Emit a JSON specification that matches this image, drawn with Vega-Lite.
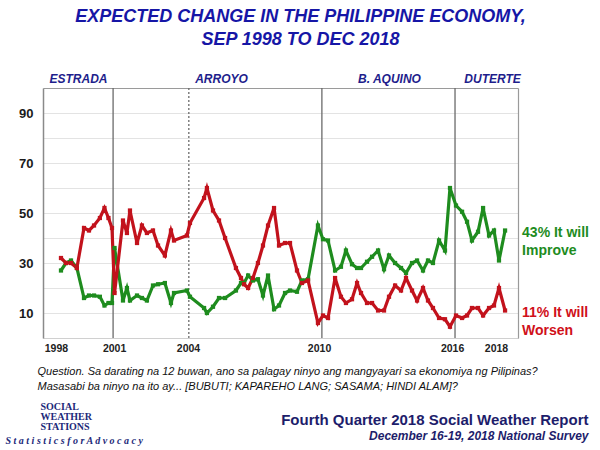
{
  "$schema": "https://vega.github.io/schema/vega-lite/v6.json",
  "width": 475,
  "height": 250,
  "autosize": {"type": "none"},
  "padding": {"left": 43, "top": 88, "right": 82, "bottom": 112},
  "background": "white",
  "config": {"view": {"stroke": null}, "font": "Liberation Sans"},
  "title": {
    "text": ["EXPECTED CHANGE IN THE PHILIPPINE ECONOMY,", "SEP 1998 TO DEC 2018"],
    "anchor": "middle",
    "frame": "group",
    "dx": 20,
    "offset": 23,
    "font": "Liberation Sans",
    "fontSize": 18,
    "fontStyle": "italic",
    "fontWeight": "bold",
    "color": "#1616a6",
    "lineHeight": 23
  },
  "datasets": {
    "survey": [
      {"date": "1998-08-27", "Improve": 27, "Worsen": 32},
      {"date": "1998-11-17", "Improve": 30, "Worsen": 30},
      {"date": "1999-02-08", "Improve": 31, "Worsen": 30},
      {"date": "1999-05-16", "Improve": 28, "Worsen": 28},
      {"date": "1999-09-10", "Improve": 16, "Worsen": 44},
      {"date": "1999-12-01", "Improve": 17, "Worsen": 43},
      {"date": "2000-02-22", "Improve": 17, "Worsen": 45},
      {"date": "2000-05-29", "Improve": 16.5, "Worsen": 48},
      {"date": "2000-08-12", "Improve": 13, "Worsen": 52},
      {"date": "2000-10-17", "Improve": 14, "Worsen": 48},
      {"date": "2000-12-14", "Improve": 14, "Worsen": 44},
      {"date": "2001-01-25", "Improve": 36, "Worsen": 18},
      {"date": "2001-06-13", "Improve": 15, "Worsen": 47},
      {"date": "2001-08-17", "Improve": 20, "Worsen": 42},
      {"date": "2001-10-06", "Improve": 15, "Worsen": 51},
      {"date": "2002-01-30", "Improve": 17, "Worsen": 38},
      {"date": "2002-04-21", "Improve": 16, "Worsen": 45},
      {"date": "2002-07-12", "Improve": 15, "Worsen": 42},
      {"date": "2002-10-20", "Improve": 21, "Worsen": 43},
      {"date": "2003-01-11", "Improve": 21.5, "Worsen": 37},
      {"date": "2003-05-04", "Improve": 22, "Worsen": 33},
      {"date": "2003-08-12", "Improve": 14, "Worsen": 43},
      {"date": "2003-10-01", "Improve": 18, "Worsen": 39},
      {"date": "2004-05-01", "Improve": 19, "Worsen": 41},
      {"date": "2004-06-20", "Improve": 16.5, "Worsen": 46},
      {"date": "2005-02-07", "Improve": 12, "Worsen": 56},
      {"date": "2005-03-26", "Improve": 10, "Worsen": 60},
      {"date": "2005-07-04", "Improve": 12.5, "Worsen": 51},
      {"date": "2005-10-11", "Improve": 16, "Worsen": 47},
      {"date": "2006-01-19", "Improve": 16, "Worsen": 40},
      {"date": "2006-07-17", "Improve": 19, "Worsen": 28},
      {"date": "2006-10-08", "Improve": 22, "Worsen": 24},
      {"date": "2006-11-27", "Improve": 22, "Worsen": 21.5},
      {"date": "2007-02-02", "Improve": 25, "Worsen": 20},
      {"date": "2007-04-23", "Improve": 23, "Worsen": 24},
      {"date": "2007-07-14", "Improve": 23.5, "Worsen": 30},
      {"date": "2007-10-05", "Improve": 17, "Worsen": 37},
      {"date": "2007-12-27", "Improve": 25, "Worsen": 45},
      {"date": "2008-04-04", "Improve": 11.5, "Worsen": 52},
      {"date": "2008-06-25", "Improve": 13, "Worsen": 37},
      {"date": "2008-10-02", "Improve": 18, "Worsen": 38},
      {"date": "2008-12-23", "Improve": 19, "Worsen": 38},
      {"date": "2009-04-17", "Improve": 18.5, "Worsen": 27},
      {"date": "2009-07-08", "Improve": 23, "Worsen": 22},
      {"date": "2009-10-16", "Improve": 23.5, "Worsen": 23},
      {"date": "2010-03-28", "Improve": 45, "Worsen": 6},
      {"date": "2010-06-19", "Improve": 39.5, "Worsen": 9},
      {"date": "2010-09-10", "Improve": 39, "Worsen": 8},
      {"date": "2011-01-04", "Improve": 27, "Worsen": 24},
      {"date": "2011-04-11", "Improve": 28.5, "Worsen": 16.5},
      {"date": "2011-07-02", "Improve": 35, "Worsen": 14},
      {"date": "2011-10-10", "Improve": 29.5, "Worsen": 15.5},
      {"date": "2012-01-01", "Improve": 28, "Worsen": 22},
      {"date": "2012-03-06", "Improve": 28, "Worsen": 18},
      {"date": "2012-06-13", "Improve": 30.5, "Worsen": 14},
      {"date": "2012-09-04", "Improve": 32.5, "Worsen": 14},
      {"date": "2012-12-12", "Improve": 35, "Worsen": 11},
      {"date": "2013-03-20", "Improve": 27.5, "Worsen": 11},
      {"date": "2013-06-10", "Improve": 33, "Worsen": 16.5},
      {"date": "2013-09-18", "Improve": 30, "Worsen": 21},
      {"date": "2013-12-25", "Improve": 28, "Worsen": 19},
      {"date": "2014-03-17", "Improve": 26, "Worsen": 24},
      {"date": "2014-06-24", "Improve": 30, "Worsen": 19},
      {"date": "2014-09-15", "Improve": 31, "Worsen": 15},
      {"date": "2014-12-22", "Improve": 27, "Worsen": 20},
      {"date": "2015-03-14", "Improve": 31, "Worsen": 15},
      {"date": "2015-06-04", "Improve": 30, "Worsen": 12},
      {"date": "2015-09-12", "Improve": 39, "Worsen": 8},
      {"date": "2015-12-19", "Improve": 35, "Worsen": 7.5},
      {"date": "2016-03-10", "Improve": 60, "Worsen": 4.5},
      {"date": "2016-06-17", "Improve": 53, "Worsen": 9},
      {"date": "2016-09-25", "Improve": 50.5, "Worsen": 8},
      {"date": "2016-12-16", "Improve": 46.5, "Worsen": 9},
      {"date": "2017-03-07", "Improve": 39, "Worsen": 12},
      {"date": "2017-06-15", "Improve": 42.5, "Worsen": 12},
      {"date": "2017-09-06", "Improve": 52, "Worsen": 9},
      {"date": "2017-12-13", "Improve": 41, "Worsen": 12},
      {"date": "2018-03-05", "Improve": 43, "Worsen": 13},
      {"date": "2018-05-26", "Improve": 31, "Worsen": 20},
      {"date": "2018-09-03", "Improve": 43, "Worsen": 11}
    ],
    "presidents": [
      {"date": "2001-01-01", "line": "solid"},
      {"date": "2004-06-01", "line": "dashed"},
      {"date": "2010-06-01", "line": "solid"},
      {"date": "2016-06-01", "line": "solid"}
    ],
    "endlabels": [
      {"date": "2018-09-03", "series": "Improve", "value": 43, "label": ["43%  It will", "Improve"]},
      {"date": "2018-09-03", "series": "Worsen", "value": 11, "label": ["11%  It will", "Worsen"]}
    ]
  },
  "resolve": {"axis": {"x": "independent", "y": "independent"}},
  "layer": [
    {
      "data": {"name": "presidents"},
      "mark": {"type": "rule", "color": "#6b6b6b", "strokeWidth": 1.3},
      "encoding": {
        "x": {
          "field": "date", "type": "temporal",
          "scale": {"type": "utc", "domain": [{"year": 1997, "month": 11, "date": 4, "utc": true}, {"year": 2019, "month": 4, "date": 4, "utc": true}]},
          "axis": {
            "orient": "top",
            "values": [
              {"year": 1999, "month": 6, "date": 3, "utc": true},
              {"year": 2005, "month": 11, "date": 13, "utc": true},
              {"year": 2013, "month": 6, "date": 10, "utc": true},
              {"year": 2018, "month": 2, "date": 1, "utc": true}
            ],
            "labelExpr": "utcyear(datum.value) < 2001 ? 'ESTRADA' : utcyear(datum.value) < 2010 ? 'ARROYO' : utcyear(datum.value) < 2016 ? 'B. AQUINO' : 'DUTERTE'",
            "ticks": false, "grid": false, "domain": true, "domainColor": "#9a9a9a", "domainWidth": 1.2,
            "labelFont": "Liberation Sans", "labelFontSize": 12, "labelFontStyle": "italic", "labelFontWeight": "bold",
            "labelColor": "#1e1e8c", "labelPadding": 3, "labelFlush": false, "labelOverlap": false,
            "title": null
          }
        },
        "strokeDash": {"field": "line", "type": "nominal", "scale": {"domain": ["solid", "dashed"], "range": [[1, 0], [2, 2]]}, "legend": null}
      }
    },
    {
      "data": {"name": "survey"},
      "transform": [{"fold": ["Improve", "Worsen"], "as": ["series", "value"]}],
      "mark": {"type": "line", "strokeWidth": 3.2, "point": {"shape": "square", "size": 18, "filled": true}},
      "encoding": {
        "x": {
          "field": "date", "type": "temporal",
          "scale": {"type": "utc", "domain": [{"year": 1997, "month": 11, "date": 4, "utc": true}, {"year": 2019, "month": 4, "date": 4, "utc": true}]},
          "axis": {
            "orient": "bottom",
            "values": [
              {"year": 1998, "month": 6, "date": 5, "utc": true},
              {"year": 2001, "month": 1, "date": 17, "utc": true},
              {"year": 2004, "month": 5, "date": 18, "utc": true},
              {"year": 2010, "month": 4, "date": 15, "utc": true},
              {"year": 2016, "month": 4, "date": 14, "utc": true},
              {"year": 2018, "month": 4, "date": 7, "utc": true}
            ],
            "format": "%Y",
            "ticks": false, "grid": false, "domain": true, "domainColor": "#d0d0d0",
            "labelFont": "Liberation Sans", "labelFontSize": 10.5, "labelFontWeight": "bold", "labelColor": "#222222",
            "labelPadding": 5, "labelFlush": false, "labelOverlap": false,
            "title": ["Question. Sa darating na 12 buwan, ano sa palagay ninyo ang mangyayari sa ekonomiya ng Pilipinas?", "Masasabi ba ninyo na ito ay... [BUBUTI; KAPAREHO LANG; SASAMA; HINDI ALAM]?"],
            "titleFont": "Liberation Sans", "titleFontSize": 11, "titleFontStyle": "italic", "titleFontWeight": "normal",
            "titleColor": "#111111", "titleAnchor": "start", "titleAlign": "left", "titleBaseline": "top",
            "titleX": -6, "titleY": 27, "titleLineHeight": 15
          }
        },
        "y": {
          "field": "value", "type": "quantitative",
          "scale": {"domain": [0, 100], "nice": false, "zero": false},
          "axis": {
            "orient": "left",
            "values": [0, 10, 20, 30, 40, 50, 60, 70, 80, 90, 100],
            "labelExpr": "datum.value % 20 == 10 ? datum.label : ''",
            "grid": true, "gridColor": "#e3e3e3", "gridWidth": 1,
            "ticks": false, "domain": true, "domainColor": "#8a8a8a", "domainWidth": 1.5,
            "labelFont": "Liberation Sans", "labelFontSize": 13, "labelFontWeight": "bold", "labelColor": "#1a1a1a",
            "labelPadding": 10, "title": null
          }
        },
        "color": {"field": "series", "type": "nominal", "scale": {"domain": ["Improve", "Worsen"], "range": ["#1e8c1e", "#c2121c"]}, "legend": null}
      }
    },
    {
      "data": {"name": "endlabels"},
      "transform": [{"filter": "datum.series == 'Improve'"}],
      "mark": {"type": "text", "align": "left", "baseline": "top", "dx": 17, "dy": -5, "font": "Liberation Sans", "fontSize": 14, "fontWeight": "bold", "lineHeight": 18, "color": "#1e8c1e"},
      "encoding": {
        "x": {
          "field": "date", "type": "temporal",
          "scale": {"type": "utc", "domain": [{"year": 1997, "month": 11, "date": 4, "utc": true}, {"year": 2019, "month": 4, "date": 4, "utc": true}]},
          "axis": {
            "orient": "bottom", "labels": false, "ticks": false, "domain": false, "grid": false,
            "title": "Fourth Quarter 2018 Social Weather Report",
            "titleFont": "Liberation Sans", "titleFontSize": 15, "titleFontWeight": "bold", "titleColor": "#1d1d6b",
            "titleAnchor": "end", "titleAlign": "right", "titleBaseline": "middle", "titleX": 545, "titleY": 81
          }
        },
        "y": {
          "field": "value", "type": "quantitative",
          "scale": {"domain": [0, 100], "nice": false, "zero": false},
          "axis": {
            "orient": "left", "labels": false, "ticks": false, "domain": false, "grid": false,
            "title": "S t a t i s t i c s   f o r   A d v o c a c y",
            "titleFont": "Liberation Serif", "titleFontSize": 10, "titleFontStyle": "italic", "titleFontWeight": "bold", "titleColor": "#1d2a7a",
            "titleAngle": 0, "titleAlign": "left", "titleBaseline": "middle", "titleX": -38, "titleY": 352
          }
        },
        "text": {"field": "label"}
      }
    },
    {
      "data": {"name": "endlabels"},
      "transform": [{"filter": "datum.series == 'Worsen'"}],
      "mark": {"type": "text", "align": "left", "baseline": "top", "dx": 17, "dy": -5, "font": "Liberation Sans", "fontSize": 14, "fontWeight": "bold", "lineHeight": 18, "color": "#d0101a"},
      "encoding": {
        "x": {
          "field": "date", "type": "temporal",
          "scale": {"type": "utc", "domain": [{"year": 1997, "month": 11, "date": 4, "utc": true}, {"year": 2019, "month": 4, "date": 4, "utc": true}]},
          "axis": {
            "orient": "bottom", "labels": false, "ticks": false, "domain": false, "grid": false,
            "title": "December 16-19, 2018 National Survey",
            "titleFont": "Liberation Sans", "titleFontSize": 12, "titleFontStyle": "italic", "titleFontWeight": "bold", "titleColor": "#1d1d6b",
            "titleAnchor": "end", "titleAlign": "right", "titleBaseline": "middle", "titleX": 545, "titleY": 97
          }
        },
        "y": {
          "field": "value", "type": "quantitative",
          "scale": {"domain": [0, 100], "nice": false, "zero": false},
          "axis": {
            "orient": "right", "labels": false, "ticks": false, "domain": true, "domainColor": "#9a9a9a", "domainWidth": 1.2, "grid": false,
            "title": ["SOCIAL", "WEATHER", "STATIONS"],
            "titleFont": "Liberation Serif", "titleFontSize": 10, "titleFontWeight": "bold", "titleColor": "#1d2a7a",
            "titleAngle": 0, "titleAlign": "left", "titleBaseline": "top", "titleX": -478, "titleY": 313, "titleLineHeight": 10
          }
        },
        "text": {"field": "label"}
      }
    }
  ]
}
